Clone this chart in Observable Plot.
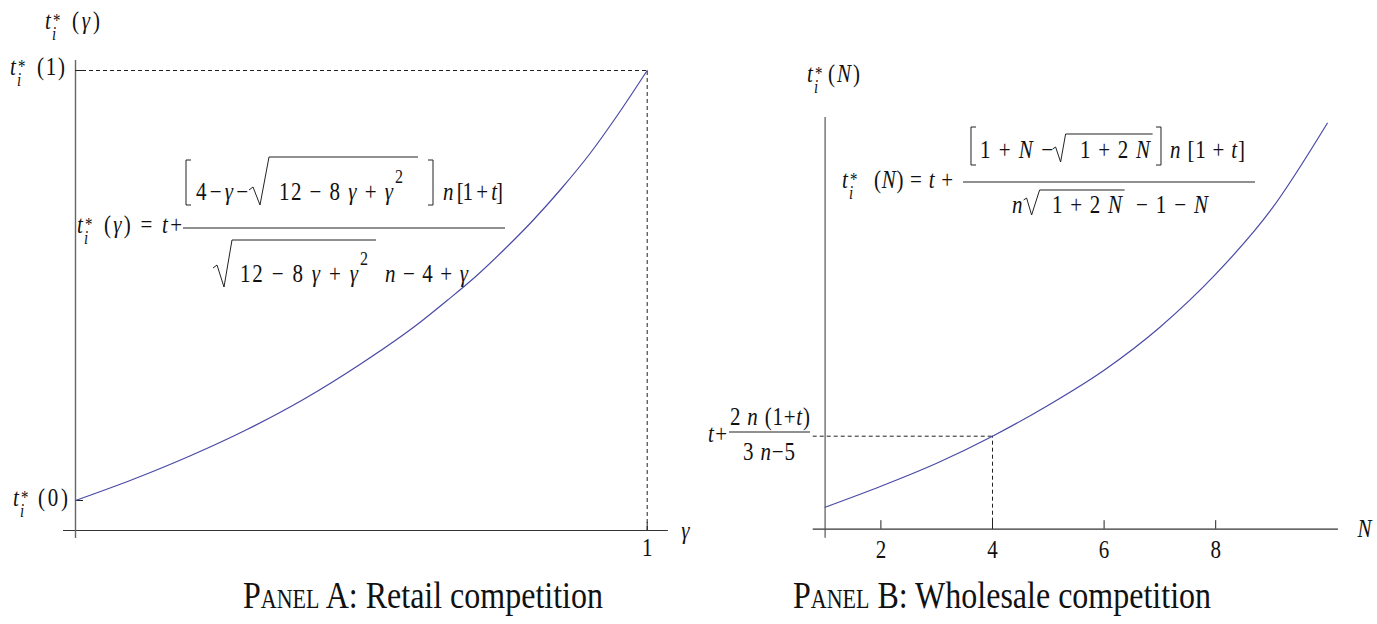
<!DOCTYPE html>
<html><head><meta charset="utf-8">
<script src="https://cdn.jsdelivr.net/npm/d3@7"></script>
<script src="https://cdn.jsdelivr.net/npm/@observablehq/plot@0.6"></script>
<style>
body{margin:0;background:#fff;}
#root{position:relative;width:1377px;height:624px;overflow:hidden;background:#fff;}
#root svg{position:absolute;top:0;}
#root svg text, #root svg tspan{font-family:"Liberation Serif","Times New Roman",serif !important;}
.cap{position:absolute;top:581px;font-family:"Liberation Serif","Times New Roman",serif;font-size:32px;line-height:1;white-space:nowrap;color:#111;transform:scaleY(1.2);transform-origin:0 26px;}
.sc{font-variant:small-caps;}
</style></head><body><div id="root"></div>
<script>
const FONT = '"Liberation Serif", "Times New Roman", serif';
const FS = 21, SY = 1.2;

// ---- Panel A: retail competition ----
const gammaA = [0, 0.1, 0.2, 0.3, 0.4, 0.5, 0.6, 0.65, 0.7, 0.75, 0.8, 0.85, 0.9, 0.95, 1];
const tStarA = [0.30, 0.51, 0.745, 1.01, 1.315, 1.67, 2.07, 2.30, 2.54, 2.81, 3.10, 3.42, 3.77, 4.17, 4.60];
const tickA = [1];
const tickLabelA = ["1"];
const levelsA = [0.30, 4.60];          // t*(0), t*(1)
const axisXA = [-0.021, 1.037];
const axisYA = [-0.08, 4.7];

// ---- Panel B: wholesale competition ----
const nB = [1, 2, 3, 4, 5, 6, 7, 8, 9, 10];
const tStarB = [0.22, 0.43, 0.66, 0.93, 1.24, 1.59, 2.02, 2.55, 3.20, 4.06];
const tickB = [2, 4, 6, 8];
const refNB = [4];
const refTB = [0.93];
const axisXB = [0.787, 10.2];
const axisYB = [-0.09, 4.117];

const dataA = gammaA.map((g, i) => ({x: g, y: tStarA[i]}));
const dataB = nB.map((n, i) => ({x: n, y: tStarB[i]}));

const CURVE = "#4a4aa6", DASH = "4,3";

function stretchPlotText(svg) {
  svg.querySelectorAll('g[aria-label="text"] text').forEach(t => {
    const tr = t.getAttribute("transform");
    if (tr) t.setAttribute("transform", tr + ` scale(1,${SY})`);
  });
}
function layer(svg, x, y) {
  return d3.select(svg).append("g").attr("transform", `translate(${x},${y})`)
    .attr("font-family", FONT).attr("font-size", FS).attr("fill", "#111")
    .attr("text-anchor", "start");
}
function txt(g, x, y, s, o = {}) {
  const t = g.append("text").attr("transform", `translate(${x},${y}) scale(1,${SY})`)
    .attr("text-anchor", o.anchor || "start").style("white-space", "pre");
  if (o.size) t.attr("font-size", o.size);
  if (o.width) t.attr("textLength", o.width).attr("lengthAdjust", "spacing");
  for (const part of s.split(/([A-Za-zγ]+)/)) {
    if (!part) continue;
    t.append("tspan").attr("font-style", /^[A-Za-zγ]+$/.test(part) ? "italic" : "normal").text(part);
  }
  return t;
}
function pth(g, d, w = 1) {
  g.append("path").attr("d", d).attr("fill", "none").attr("stroke", "#222").attr("stroke-width", w);
}
function lbr(g, x, y1, y2) { pth(g, `M${x + 5},${y1}H${x}V${y2}H${x + 5}`); }
function rbr(g, x, y1, y2) { pth(g, `M${x - 5},${y1}H${x}V${y2}H${x - 5}`); }
function tstar(g, x, y, rest, restDx, restW) {
  txt(g, x, y, "t");
  txt(g, x + 8, y - 2, "*", {size: 15});
  txt(g, x + 7, y + 11, "i", {size: 15});
  txt(g, x + restDx, y, rest, {width: restW});
}

const root = document.getElementById("root");

// ================= Panel A =================
const A = Plot.plot({
  width: 700, height: 570,
  marginLeft: 75, marginRight: 53.3, marginTop: 60, marginBottom: 40,
  x: {domain: [0, 1], axis: null},
  y: {domain: [0, 4.7], axis: null},
  style: {fontFamily: FONT, fontSize: FS + "px", background: "transparent", overflow: "visible"},
  marks: [
    Plot.ruleY([levelsA[1]], {x1: 0, x2: tickA[0], stroke: "#222", strokeDasharray: DASH}),
    Plot.ruleX(tickA, {y1: 0, y2: levelsA[1], stroke: "#222", strokeDasharray: DASH}),
    Plot.ruleY([0], {x1: axisXA[0], x2: axisXA[1], stroke: "#333", strokeWidth: 1.2}),
    Plot.ruleX([0], {y1: axisYA[0], y2: axisYA[1], stroke: "#666", strokeWidth: 1.4}),
    Plot.ruleY(levelsA, {x1: 0, x2: 0.014, stroke: "#222"}),
    Plot.ruleX(tickA, {y1: 0, y2: 0.08, stroke: "#222"}),
    Plot.line(dataA, {x: "x", y: "y", stroke: CURVE, strokeWidth: 1.2, curve: "monotone-x"}),
    Plot.text(tickA, {x: d => d, y: 0, dy: 17, text: (d, i) => tickLabelA[i], lineAnchor: "middle", fill: "#111"}),
    Plot.text(["γ"], {x: axisXA[1], y: 0, dx: 17, text: d => d, fontStyle: "italic", lineAnchor: "middle", fill: "#111"})
  ]
});
A.style.left = "0px";
root.appendChild(A);
stretchPlotText(A);
{
  const xs = A.scale("x"), ys = A.scale("y");
  const x0 = xs.apply(0);
  tstar(layer(A, x0, ys.apply(axisYA[1])), -30, -31, "(γ)", 27, 28);
  tstar(layer(A, x0, ys.apply(levelsA[1])), -65, 5, "(1)", 27, 28);
  tstar(layer(A, x0, ys.apply(levelsA[0])), -62, 6, "(0)", 25, 30);
  const g = layer(A, x0, ys.apply(3.02));
  tstar(g, 2, 5, "(γ) = t+", 27, 78);
  pth(g, "M108,0H430", 1.2);
  lbr(g, 111, -68, -23);
  txt(g, 121, -28, "4 − γ −", {width: 52});
  pth(g, "M174,-38L178,-41L185,-23L194,-71H343");
  txt(g, 204, -28, "12 − 8 γ + γ", {width: 114});
  txt(g, 320, -45, "2", {size: 16});
  rbr(g, 358, -68, -23);
  txt(g, 368, -28, "n [1 + t]", {width: 60});
  pth(g, "M138,40L142,37L149,59L157,12H301");
  txt(g, 165, 54, "12 − 8 γ + γ", {width: 118});
  txt(g, 285, 37, "2", {size: 16});
  txt(g, 310, 54, "n − 4 + γ", {width: 83});
}

// ================= Panel B =================
const B = Plot.plot({
  width: 677, height: 570,
  marginLeft: 124.6, marginRight: 50.2, marginTop: 58.7, marginBottom: 41.3,
  x: {domain: [1, 10], axis: null},
  y: {domain: [0, 4.7], axis: null},
  style: {fontFamily: FONT, fontSize: FS + "px", background: "transparent", overflow: "visible"},
  marks: [
    Plot.ruleY(refTB, {x1: axisXB[0], x2: refNB[0], stroke: "#222", strokeDasharray: DASH}),
    Plot.ruleX(refNB, {y1: 0, y2: refTB[0], stroke: "#222", strokeDasharray: DASH}),
    Plot.ruleY([0], {x1: axisXB[0], x2: axisXB[1], stroke: "#333", strokeWidth: 1.2}),
    Plot.ruleX([1], {y1: axisYB[0], y2: axisYB[1], stroke: "#555", strokeWidth: 1.2}),
    Plot.ruleX(tickB, {y1: 0, y2: 0.085, stroke: "#222"}),
    Plot.line(dataB, {x: "x", y: "y", stroke: CURVE, strokeWidth: 1.2, curve: "monotone-x"}),
    Plot.text(tickB, {x: d => d, y: 0, dy: 21, text: d => String(d), lineAnchor: "middle", fill: "#111"}),
    Plot.text(["N"], {x: axisXB[1], y: 0, dx: 26, text: d => d, fontStyle: "italic", lineAnchor: "middle", fill: "#111"})
  ]
});
B.style.left = "700px";
root.appendChild(B);
stretchPlotText(B);
{
  const xs = B.scale("x"), ys = B.scale("y");
  const x0 = xs.apply(1);
  tstar(layer(B, x0, ys.apply(axisYB[1])), -17.6, -35, "(N)", 21, 32);
  const r = layer(B, x0, ys.apply(refTB[0]));
  txt(r, -116.6, 6, "t+", {width: 19});
  pth(r, "M-95.6,-3.7H-14.6", 1.1);
  txt(r, -94.6, -10.7, "2 n (1+t)", {width: 80});
  txt(r, -81.6, 24.3, "3 n−5", {width: 52});
  const g = layer(B, x0, ys.apply(3.467));
  tstar(g, 17.4, 6, "(N) = t +", 32, 79);
  pth(g, "M138.4,0H430.4", 1.2);
  lbr(g, 146.4, -55, -17);
  txt(g, 155.4, -24, "1 + N −", {width: 73});
  pth(g, "M228,-33L231,-35L236,-20L241,-48H328");
  txt(g, 255.4, -24, "1 + 2 N", {width: 70});
  rbr(g, 336.4, -55, -17);
  txt(g, 345.4, -24, "n [1 + t]", {width: 75});
  txt(g, 187.4, 31, "n");
  pth(g, "M199,18L202,16L207,33L215,8H300");
  txt(g, 227.4, 31, "1 + 2 N", {width: 70});
  txt(g, 311.4, 31, "− 1 − N", {width: 72});
}

const capA = document.createElement("div");
capA.className = "cap"; capA.style.left = "243px";
capA.innerHTML = '<span class="sc">Panel</span> A: Retail competition';
root.appendChild(capA);
const capB = document.createElement("div");
capB.className = "cap"; capB.style.left = "793px";
capB.innerHTML = '<span class="sc">Panel</span> B: Wholesale competition';
root.appendChild(capB);
</script>
</body></html>
